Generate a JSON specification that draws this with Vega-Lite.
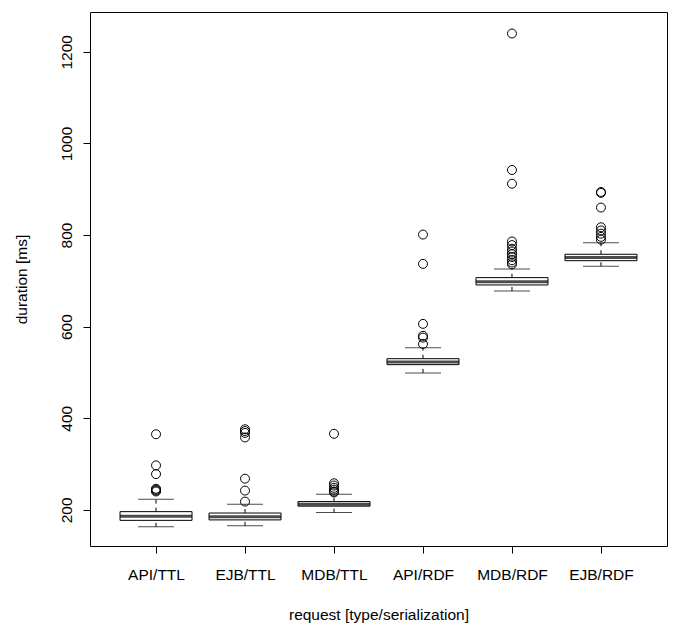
{
  "$schema": "https://vega.github.io/schema/vega-lite/v6.json",
  "autosize": {"type": "none"},
  "padding": {"left": 90, "top": 12, "right": 14, "bottom": 80},
  "width": 577,
  "height": 534,
  "background": "white",
  "config": {
    "view": {"stroke": "black", "strokeWidth": 1},
    "axis": {
      "domain": false, "grid": false, "tickColor": "black", "tickSize": 7,
      "labelColor": "black", "labelFont": "Liberation Sans", "labelFontSize": 15.5,
      "titleColor": "black", "titleFont": "Liberation Sans", "titleFontSize": 15.5, "titleFontWeight": "normal"
    }
  },
  "datasets": {
    "summary": [
      {"request": "API/TTL", "lw": 163, "q1": 177, "med": 186, "q3": 196, "uw": 223},
      {"request": "EJB/TTL", "lw": 165, "q1": 178, "med": 185, "q3": 193, "uw": 212},
      {"request": "MDB/TTL", "lw": 194, "q1": 208, "med": 212, "q3": 218, "uw": 234},
      {"request": "API/RDF", "lw": 499, "q1": 517, "med": 523, "q3": 530, "uw": 554},
      {"request": "MDB/RDF", "lw": 678, "q1": 691, "med": 698, "q3": 707, "uw": 726},
      {"request": "EJB/RDF", "lw": 732, "q1": 744, "med": 751, "q3": 758, "uw": 783}
    ],
    "outliers": [
      {"request": "API/TTL", "duration": 365}, {"request": "API/TTL", "duration": 297},
      {"request": "API/TTL", "duration": 278}, {"request": "API/TTL", "duration": 246},
      {"request": "API/TTL", "duration": 244}, {"request": "API/TTL", "duration": 242},
      {"request": "API/TTL", "duration": 240},
      {"request": "EJB/TTL", "duration": 376}, {"request": "EJB/TTL", "duration": 372},
      {"request": "EJB/TTL", "duration": 368}, {"request": "EJB/TTL", "duration": 358},
      {"request": "EJB/TTL", "duration": 268}, {"request": "EJB/TTL", "duration": 242},
      {"request": "EJB/TTL", "duration": 218},
      {"request": "MDB/TTL", "duration": 366}, {"request": "MDB/TTL", "duration": 258},
      {"request": "MDB/TTL", "duration": 253}, {"request": "MDB/TTL", "duration": 248},
      {"request": "MDB/TTL", "duration": 244}, {"request": "MDB/TTL", "duration": 240},
      {"request": "MDB/TTL", "duration": 238},
      {"request": "API/RDF", "duration": 801}, {"request": "API/RDF", "duration": 737},
      {"request": "API/RDF", "duration": 606}, {"request": "API/RDF", "duration": 580},
      {"request": "API/RDF", "duration": 576}, {"request": "API/RDF", "duration": 562},
      {"request": "MDB/RDF", "duration": 1240}, {"request": "MDB/RDF", "duration": 942},
      {"request": "MDB/RDF", "duration": 912}, {"request": "MDB/RDF", "duration": 786},
      {"request": "MDB/RDF", "duration": 778}, {"request": "MDB/RDF", "duration": 770},
      {"request": "MDB/RDF", "duration": 764}, {"request": "MDB/RDF", "duration": 758},
      {"request": "MDB/RDF", "duration": 752}, {"request": "MDB/RDF", "duration": 745},
      {"request": "MDB/RDF", "duration": 740}, {"request": "MDB/RDF", "duration": 736},
      {"request": "EJB/RDF", "duration": 894}, {"request": "EJB/RDF", "duration": 892},
      {"request": "EJB/RDF", "duration": 860}, {"request": "EJB/RDF", "duration": 817},
      {"request": "EJB/RDF", "duration": 810}, {"request": "EJB/RDF", "duration": 803},
      {"request": "EJB/RDF", "duration": 796}, {"request": "EJB/RDF", "duration": 790}
    ]
  },
  "layer": [
    {
      "data": {"name": "summary"},
      "mark": {"type": "rule", "color": "black", "strokeWidth": 1, "strokeDash": [4, 4]},
      "encoding": {
        "x": {"field": "request", "type": "nominal",
              "sort": ["API/TTL", "EJB/TTL", "MDB/TTL", "API/RDF", "MDB/RDF", "EJB/RDF"],
              "scale": {"type": "point", "padding": 0.742},
              "axis": {"title": "request [type/serialization]", "labelAngle": 0, "labelPadding": 14,
                       "titleX": 288.5, "titleY": 68, "titleBaseline": "middle", "titleAlign": "center"}},
        "y": {"field": "lw", "type": "quantitative",
              "scale": {"domain": [121, 1287], "nice": false, "zero": false},
              "axis": {"title": "duration [ms]", "values": [200, 400, 600, 800, 1000, 1200], "format": "d",
                       "labelAngle": -90, "labelAlign": "center", "labelBaseline": "bottom", "labelPadding": 9,
                       "titleAngle": -90, "titleX": -69, "titleY": 267, "titleBaseline": "middle", "titleAlign": "center"}},
        "y2": {"field": "q1"}
      }
    },
    {
      "data": {"name": "summary"},
      "mark": {"type": "rule", "color": "black", "strokeWidth": 1, "strokeDash": [4, 4]},
      "encoding": {
        "x": {"field": "request", "type": "nominal", "sort": ["API/TTL", "EJB/TTL", "MDB/TTL", "API/RDF", "MDB/RDF", "EJB/RDF"]},
        "y": {"field": "q3", "type": "quantitative"},
        "y2": {"field": "uw"}
      }
    },
    {
      "data": {"name": "summary"},
      "mark": {"type": "tick", "color": "black", "size": 36, "thickness": 1, "orient": "horizontal"},
      "encoding": {
        "x": {"field": "request", "type": "nominal", "sort": ["API/TTL", "EJB/TTL", "MDB/TTL", "API/RDF", "MDB/RDF", "EJB/RDF"]},
        "y": {"field": "lw", "type": "quantitative"}
      }
    },
    {
      "data": {"name": "summary"},
      "mark": {"type": "tick", "color": "black", "size": 36, "thickness": 1, "orient": "horizontal"},
      "encoding": {
        "x": {"field": "request", "type": "nominal", "sort": ["API/TTL", "EJB/TTL", "MDB/TTL", "API/RDF", "MDB/RDF", "EJB/RDF"]},
        "y": {"field": "uw", "type": "quantitative"}
      }
    },
    {
      "data": {"name": "summary"},
      "mark": {"type": "bar", "size": 72, "fill": "white", "stroke": "black", "strokeWidth": 1},
      "encoding": {
        "x": {"field": "request", "type": "nominal", "sort": ["API/TTL", "EJB/TTL", "MDB/TTL", "API/RDF", "MDB/RDF", "EJB/RDF"]},
        "y": {"field": "q1", "type": "quantitative"},
        "y2": {"field": "q3"}
      }
    },
    {
      "data": {"name": "summary"},
      "mark": {"type": "tick", "color": "black", "size": 72, "thickness": 3, "orient": "horizontal"},
      "encoding": {
        "x": {"field": "request", "type": "nominal", "sort": ["API/TTL", "EJB/TTL", "MDB/TTL", "API/RDF", "MDB/RDF", "EJB/RDF"]},
        "y": {"field": "med", "type": "quantitative"}
      }
    },
    {
      "data": {"name": "outliers"},
      "mark": {"type": "point", "shape": "circle", "filled": false, "color": "black", "strokeWidth": 1, "size": 80, "opacity": 1},
      "encoding": {
        "x": {"field": "request", "type": "nominal", "sort": ["API/TTL", "EJB/TTL", "MDB/TTL", "API/RDF", "MDB/RDF", "EJB/RDF"]},
        "y": {"field": "duration", "type": "quantitative"}
      }
    }
  ]
}
